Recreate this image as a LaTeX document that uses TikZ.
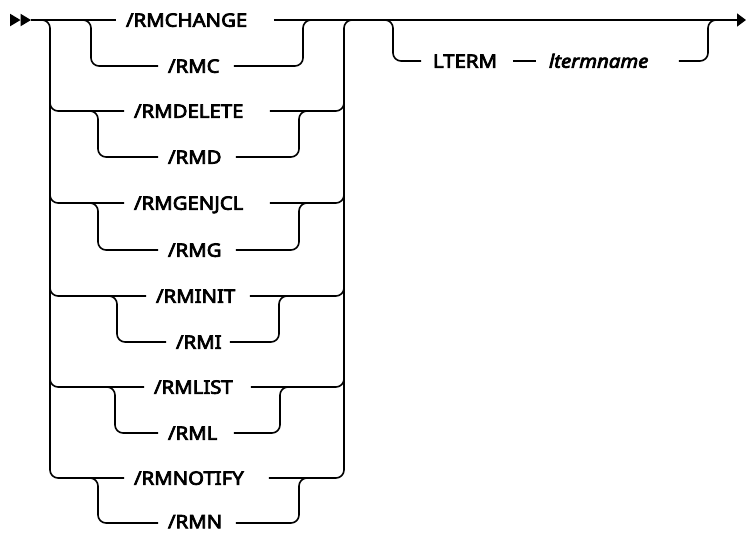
\documentclass[tikz,border=0pt]{standalone}
\usepackage{fontspec}
\setmainfont{Noto Sans}[FakeStretch=1.1,FakeBold=4]
\usetikzlibrary{arrows.meta}
\newcommand\rrow[6][]{\node[lbl,#1] (#2) at ({(#4+#5)/2},#3) {\makebox[\dimexpr#5pt-#4pt\relax][l]{\hspace{9pt}#6}};}
\begin{document}
\begin{tikzpicture}[x=1pt,y=-1pt,line width=1.6pt,
  rr/.style={rounded corners=8pt},
  lbl/.style={inner sep=0pt,text height=13.5pt,text depth=0pt,font=\fontsize{18.5}{20}\selectfont},
  tip/.style={-{Triangle[length=9pt,width=13pt]}}]
\useasboundingbox (0,0) rectangle (746,533);
% start double arrowhead
\fill (10,13.7) -- (20.5,20) -- (10,26.3) -- cycle;
\fill (20.5,13.7) -- (31,20) -- (20.5,26.3) -- cycle;
\coordinate (start) at (31,20);
\coordinate (end) at (746,20);
% labels
\rrow{t0}{20}{117}{273}{/RMCHANGE}
\rrow{t1}{66}{159}{233}{/RMC}
\rrow{t2}{111}{125}{269}{/RMDELETE}
\rrow{t3}{157}{159}{235}{/RMD}
\rrow{t4}{203}{125}{269}{/RMGENJCL}
\rrow{t5}{250}{159}{235}{/RMG}
\rrow{t6}{296}{147}{249}{/RMINIT}
\rrow{t7}{342}{167}{229}{/RMI}
\rrow{t8}{387}{145}{250}{/RMLIST}
\rrow{t9}{433}{159}{233}{/RML}
\rrow{t10}{478}{125}{268}{/RMNOTIFY}
\rrow{t11}{523}{159}{235}{\raisebox{1.5pt}{/RMN}}
\node[lbl] (lt) at ({(422+512)/2},61) {\makebox[90pt][l]{\hspace{11pt}LTERM}};
\node[lbl] (ln) at ({(537+678)/2},61) {\makebox[141pt][l]{\hspace{12pt}\itshape ltermname}};
% main line
\draw (start) -- (t0.west);
\draw[tip] (t0.east) -- (end);
% outer left
\draw[rr] (40,20) -| (50,478) -- (t10.west);
\foreach \k/\y in {2/111,4/203,6/296,8/387}{
  \draw[rr] (50,\y-12) |- (t\k.west);
  \draw[rr] (t\k.east) -| (344,\y-12);
}
% outer right
\draw[rr] (t10.east) -| (344,20) -- (354,20);
% inner groups
\foreach \a/\b/\ya/\yb/\xl/\xr in {0/1/20/66/91/303, 2/3/111/157/98/299, 4/5/203/250/98/299, 6/7/296/342/117/279, 8/9/387/433/115/280, 10/11/478/523/98/299}{
  \draw[rr] (\xl-10,\ya) -| (\xl,\yb) -- (t\b.west);
  \draw[rr] (t\b.east) -| (\xr,\ya) -- (\xr+10,\ya);
}
% LTERM group
\draw[rr] (383,20) -| (393,61) -- (lt.west);
\draw (lt.east) -- (ln.west);
\draw[rr] (ln.east) -| (708,20) -- (718,20);
\end{tikzpicture}
\end{document}
